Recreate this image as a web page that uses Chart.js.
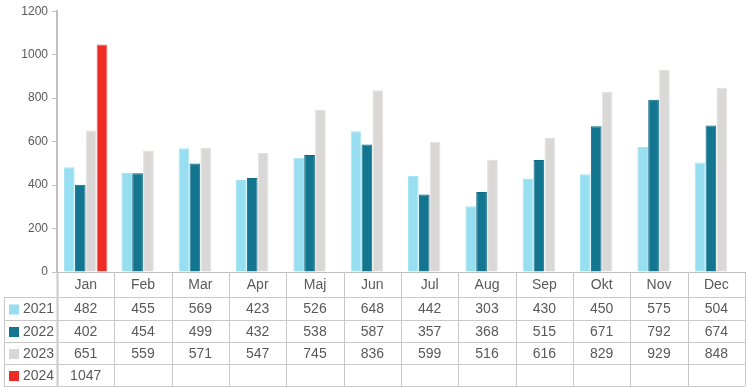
<!DOCTYPE html>
<html>
<head>
<meta charset="utf-8">
<script src="https://cdn.jsdelivr.net/npm/chart.js@4.4.1/dist/chart.umd.min.js"></script>
<style>
html,body{margin:0;padding:0;background:#fff;}
#wrap{position:relative;width:746px;height:388px;}
</style>
</head>
<body>
<div id="wrap"><canvas id="c" width="746" height="388"></canvas></div>
<script>
const months = ["Jan","Feb","Mar","Apr","Maj","Jun","Jul","Aug","Sep","Okt","Nov","Dec"];
const years = ["2021","2022","2023","2024"];
const v2021 = [482,455,569,423,526,648,442,303,430,450,575,504];
const v2022 = [402,454,499,432,538,587,357,368,515,671,792,674];
const v2023 = [651,559,571,547,745,836,599,516,616,829,929,848];
const v2024 = [1047,null,null,null,null,null,null,null,null,null,null,null];
const yTicks = [0,200,400,600,800,1000,1200];

const colors = ["#97DEF0","#13758F","#D9D8D7","#EE2B24"];
const borders = ["#A8E4F3","#0F6A82","#E2E0DF","#F05A55"];
const series = [v2021,v2022,v2023,v2024];

const textColor = "#595959";
const lineColor = "#C9C9C9";
const fontFam = "'Liberation Sans', Arial, sans-serif";

const tablePlugin = {
  id: 'dataTable',
  afterDraw(chart) {
    const ctx = chart.ctx;
    const xs = chart.scales.x;
    const area = chart.chartArea;
    const left = area.left, right = area.right;
    const n = months.length;
    const cw = (right - left) / n;
    const x0 = 4;
    const b = Math.round(area.bottom);
    const rows = [b, b + 25, b + 48, b + 70, b + 92, b + 114];
    ctx.save();
    ctx.strokeStyle = lineColor;
    ctx.lineWidth = 1;
    for (let r = 1; r < rows.length; r++) {
      ctx.beginPath();
      ctx.moveTo(x0, rows[r] + 0.5);
      ctx.lineTo(right, rows[r] + 0.5);
      ctx.stroke();
    }
    ctx.beginPath();
    ctx.moveTo(x0 + 0.5, rows[1]);
    ctx.lineTo(x0 + 0.5, rows[rows.length - 1]);
    ctx.stroke();
    for (let i = 0; i <= n; i++) {
      const x = Math.round(left + i * cw) + 0.5;
      ctx.beginPath();
      ctx.lineWidth = (i === 0) ? 2 : 1;
      ctx.moveTo(x, rows[0]);
      ctx.lineTo(x, rows[rows.length - 1]);
      ctx.stroke();
    }
    ctx.fillStyle = textColor;
    ctx.font = "14px " + fontFam;
    ctx.textAlign = "center";
    ctx.textBaseline = "middle";
    for (let i = 0; i < n; i++) {
      const cx = xs.getPixelForValue(i);
      ctx.fillText(months[i], cx, (rows[0] + rows[1]) / 2 + 1);
    }
    for (let s = 0; s < series.length; s++) {
      const cy = (rows[s + 1] + rows[s + 2]) / 2 + 1;
      ctx.fillStyle = colors[s];
      ctx.fillRect(x0 + 5, cy - 5, 10, 10);
      ctx.fillStyle = textColor;
      ctx.textAlign = "left";
      ctx.fillText(years[s], x0 + 19, cy);
      ctx.textAlign = "center";
      for (let i = 0; i < n; i++) {
        const v = series[s][i];
        if (v === null || v === undefined) continue;
        ctx.fillText(String(v), xs.getPixelForValue(i), cy);
      }
    }
    ctx.restore();
  }
};

new Chart(document.getElementById('c'), {
  type: 'bar',
  data: {
    labels: months,
    datasets: years.map((y, k) => ({
      label: y,
      data: series[k],
      backgroundColor: colors[k],
      borderColor: borders[k],
      borderWidth: 1,
      categoryPercentage: 0.76,
      barPercentage: 0.98
    }))
  },
  options: {
    responsive: false,
    animation: false,
    devicePixelRatio: 1,
    layout: { padding: { top: 5, right: 1, bottom: 108, left: 0 } },
    plugins: { legend: { display: false }, tooltip: { enabled: false } },
    scales: {
      x: {
        grid: { display: false },
        ticks: { display: false },
        border: { display: true, color: "#BFBFBF", width: 1 }
      },
      y: {
        min: 0, max: 1200,
        afterBuildTicks(axis) { axis.ticks = yTicks.map(v => ({ value: v })); },
        afterFit(axis) { axis.width = 57; },
        grid: { drawOnChartArea: false, drawTicks: true, tickLength: 5, color: "#BFBFBF" },
        border: { display: true, color: "#BFBFBF", width: 2 },
        ticks: { color: textColor, font: { family: fontFam, size: 12 }, padding: 4,
                 callback: (v) => String(v) }
      }
    }
  },
  plugins: [tablePlugin]
});
</script>
</body>
</html>
